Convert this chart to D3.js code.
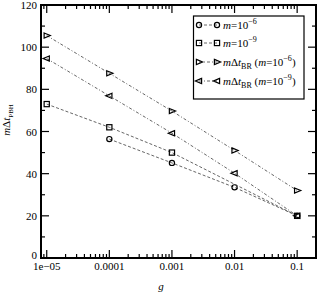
<!DOCTYPE html>
<html>
<head>
<meta charset="utf-8">
<script src="https://cdn.jsdelivr.net/npm/d3@7"></script>
<style>
  body { margin: 0; background: #fff; }
</style>
</head>
<body>
<script>
const width = 317, height = 297
const margin = {left: 41, top: 5, right: 1, bottom: 39}
const serif = '"Liberation Serif", "Times New Roman", Tinos, "DejaVu Serif", serif'

// data
const gCircle = [1e-4, 1e-3, 1e-2, 1e-1]
const circleVals = [56.4, 45.1, 33.5, 20]
const gSquare = [1e-5, 1e-4, 1e-3, 1e-1]
const squareVals = [73, 62, 50, 20]
const gTri = [1e-5, 1e-4, 1e-3, 1e-2, 1e-1]
const triRightVals = [105.5, 87.6, 69.7, 51, 32]
const triLeftVals = [94.6, 76.9, 59.2, 40.2, 20]
const xTicks = [1e-5, 1e-4, 1e-3, 1e-2, 1e-1]
const xTickLabels = ['1e\u221205', '0.0001', '0.001', '0.01', '0.1']
const yTicks = [0, 20, 40, 60, 80, 100, 120]

const series = [
  {g: gCircle, v: circleVals, sym: 'circle', dash: '3,2', exp: '\u22126', br: false},
  {g: gSquare, v: squareVals, sym: 'square', dash: '3,2', exp: '\u22129', br: false},
  {g: gTri, v: triRightVals, sym: 'right', dash: '3,2,1,2', exp: '\u22126', br: true},
  {g: gTri, v: triLeftVals, sym: 'left', dash: '3,2,1,2', exp: '\u22129', br: true}
]

let svg = d3.select('body').append('svg')
  .attr('width', width)
  .attr('height', height)
  .attr('font-family', serif)

const x = d3.scaleLog().domain([8.1e-6, 0.2]).range([margin.left, width - margin.right])
const y = d3.scaleLinear().domain([0, 120]).range([height - margin.bottom, margin.top])
const x0 = margin.left, x1 = width - margin.right
const y0 = height - margin.bottom, y1 = margin.top

// minor ticks
let minorX = []
for (let e = -6; e <= -1; e++)
  for (let k = 1; k <= 9; k++) {
    const v = k * Math.pow(10, e)
    if (v >= x.domain()[0] && v <= x.domain()[1]) minorX.push(v)
  }
const minorY = d3.range(0, 121, 10)

let ticks = svg.append('g').attr('stroke', '#000').attr('stroke-width', 1.2)
minorX.forEach(v => {
  const major = xTicks.some(t => Math.abs(t - v) / t < 1e-6)
  const len = major ? 8 : 4
  ticks.append('line').attr('x1', x(v)).attr('x2', x(v)).attr('y1', y0).attr('y2', y0 - len)
  ticks.append('line').attr('x1', x(v)).attr('x2', x(v)).attr('y1', y1).attr('y2', y1 + len)
})
minorY.forEach(v => {
  const len = v % 20 === 0 ? 8 : 4
  ticks.append('line').attr('y1', y(v)).attr('y2', y(v)).attr('x1', x0).attr('x2', x0 + len)
  ticks.append('line').attr('y1', y(v)).attr('y2', y(v)).attr('x1', x1).attr('x2', x1 - len)
})

// frame
svg.append('rect')
  .attr('x', x0).attr('y', y1)
  .attr('width', x1 - x0).attr('height', y0 - y1)
  .attr('fill', 'none').attr('stroke', '#000').attr('stroke-width', 2)

// tick labels
svg.selectAll('.xlab').data(xTicks).enter().append('text')
  .attr('x', d => x(d)).attr('y', y0 + 12)
  .attr('text-anchor', 'middle').style('font-size', '11px')
  .text((d, i) => xTickLabels[i])
svg.selectAll('.ylab').data(yTicks).enter().append('text')
  .attr('x', x0 - 4).attr('y', d => y(d) + (d === 0 ? 1 : 4))
  .attr('text-anchor', 'end').style('font-size', '11px')
  .text(d => d)

// axis titles
svg.append('text').attr('x', 161).attr('y', 290)
  .attr('text-anchor', 'middle').style('font-size', '11px').style('font-style', 'italic').text('g')
let yl = svg.append('text')
  .attr('transform', 'translate(9.5, 120) rotate(-90)')
  .attr('text-anchor', 'middle').style('font-size', '11px')
yl.append('tspan').style('font-style', 'italic').text('m')
yl.append('tspan').text('\u0394')
yl.append('tspan').style('font-style', 'italic').text('t')
yl.append('tspan').attr('dy', 3).style('font-size', '7px').text('PBH')

// markers
const drawSym = (g, sym, cx, cy) => {
  const s = 2.6
  let el
  if (sym === 'circle') el = g.append('circle').attr('cx', cx).attr('cy', cy).attr('r', s)
  else if (sym === 'square') el = g.append('rect').attr('x', cx - s).attr('y', cy - s).attr('width', 2 * s).attr('height', 2 * s)
  else if (sym === 'right') el = g.append('path').attr('d', `M${cx - s},${cy - s}L${cx + s + 1},${cy}L${cx - s},${cy + s}Z`)
  else el = g.append('path').attr('d', `M${cx + s},${cy - s}L${cx - s - 1},${cy}L${cx + s},${cy + s}Z`)
  el.attr('fill', 'none').attr('stroke', '#000').attr('stroke-width', 1.2)
}

const line = d3.line().x(d => x(d[0])).y(d => y(d[1]))
series.forEach(s => {
  const pts = s.g.map((g, i) => [g, s.v[i]])
  svg.append('path').datum(pts)
    .attr('d', line)
    .attr('fill', 'none').attr('stroke', '#555').attr('stroke-width', 0.9)
    .attr('stroke-dasharray', s.dash)
  let mg = svg.append('g')
  pts.forEach(p => drawSym(mg, s.sym, x(p[0]), y(p[1])))
})

// legend
let leg = svg.append('g')
leg.append('rect').attr('x', 193.5).attr('y', 16).attr('width', 110.5).attr('height', 83)
  .attr('fill', '#fff').attr('stroke', '#000').attr('stroke-width', 1.2)
const rowY = [25, 43, 62, 81]
series.forEach((s, i) => {
  const ry = rowY[i]
  leg.append('line').attr('x1', 199).attr('x2', 217).attr('y1', ry).attr('y2', ry)
    .attr('stroke', '#555').attr('stroke-width', 0.9).attr('stroke-dasharray', s.dash)
  drawSym(leg, s.sym, 199, ry)
  drawSym(leg, s.sym, 217, ry)
  let t = leg.append('text').attr('x', 223).attr('y', ry + 4).style('font-size', '11px')
  if (s.br) {
    t.append('tspan').style('font-style', 'italic').text('m')
    t.append('tspan').text('\u0394')
    t.append('tspan').style('font-style', 'italic').text('t')
    t.append('tspan').attr('dy', 3).style('font-size', '8px').text('BR')
    t.append('tspan').attr('dy', -3).text(' (')
    t.append('tspan').style('font-style', 'italic').text('m')
    t.append('tspan').text('=10')
    t.append('tspan').attr('dy', -5).style('font-size', '8px').text(s.exp)
    t.append('tspan').attr('dy', 5).text(')')
  } else {
    t.append('tspan').style('font-style', 'italic').text('m')
    t.append('tspan').text('=10')
    t.append('tspan').attr('dy', -5).style('font-size', '8px').text(s.exp)
  }
})
</script>
</body>
</html>
